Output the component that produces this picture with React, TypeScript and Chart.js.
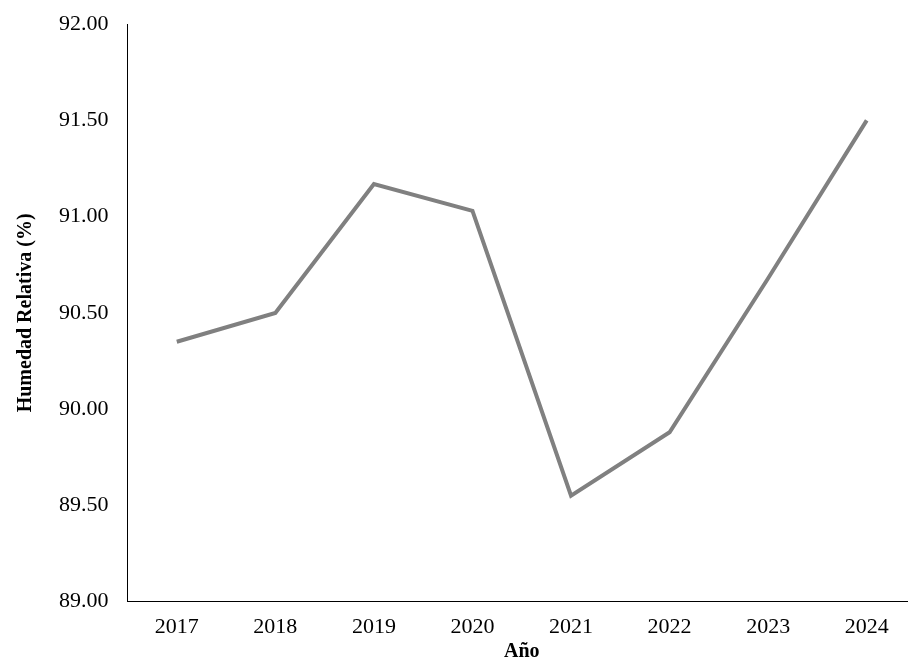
import { useEffect, useRef } from 'react';
import { Chart, registerables } from 'chart.js';

Chart.register(...registerables);

const years = ['2017', '2018', '2019', '2020', '2021', '2022', '2023', '2024'];
const humidity = [90.35, 90.5, 91.17, 91.03, 89.55, 89.88, 90.68, 91.5];

const App = () => {
    const chartRef = useRef<HTMLCanvasElement | null>(null);

    useEffect(() => {
        const ctx = chartRef.current?.getContext('2d');
        if (!ctx) return;
        const font = { family: '"Liberation Serif", "Times New Roman", serif', size: 22 };
        const chart = new Chart(ctx, {
            type: 'line',
            data: {
                labels: years,
                datasets: [{
                    data: humidity,
                    borderColor: '#808080',
                    borderWidth: 4,
                    pointRadius: 0,
                    tension: 0,
                }],
            },
            options: {
                animation: false,
                responsive: false,
                plugins: { legend: { display: false }, tooltip: { enabled: false } },
                layout: { padding: { top: 0, right: 0, bottom: 4, left: 4 } },
                scales: {
                    x: {
                        offset: true,
                        grid: { display: false },
                        border: { color: '#000', width: 1 },
                        ticks: { color: '#000', font, padding: 4 },
                        title: { display: true, text: 'Año', color: '#000', padding: { top: -4, bottom: 0 }, font: { ...font, size: 20, weight: 'bold' } },
                    },
                    y: {
                        min: 89,
                        max: 92,
                        grid: { display: false },
                        border: { color: '#000', width: 1 },
                        ticks: { stepSize: 0.5, color: '#000', font, padding: 11, callback: (v) => Number(v).toFixed(2) },
                        title: { display: true, text: 'Humedad Relativa (%)', color: '#000', padding: 10, font: { ...font, size: 20, weight: 'bold' } },
                    },
                },
            },
        });
        return () => chart.destroy();
    }, []);

    return (
        <div style={{ margin: -8, background: '#fff' }}>
            <canvas ref={chartRef} width={916} height={668} style={{ display: 'block' }}></canvas>
        </div>
    );
};

export default App;
